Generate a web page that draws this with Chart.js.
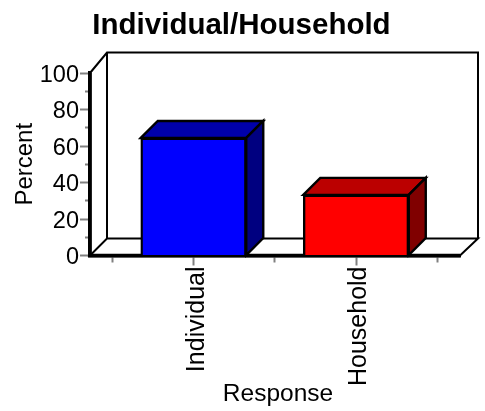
<!DOCTYPE html>
<html><head><meta charset="utf-8">
<style>html,body{margin:0;padding:0;background:#fff}#w{width:485px;height:411px}</style>
<script src="https://cdn.jsdelivr.net/npm/chart.js@4"></script>
</head><body><div id="w"><canvas id="c"></canvas></div>
<script>
const titleText = 'Individual/Household';
const categories = ['Individual', 'Household'];
const values = [64.4, 33.2];
const frontColors = ['#0000ff', '#ff0000'];
const topColors = ['#0000aa', '#bb0000'];
const sideColors = ['#000080', '#800000'];
const yTickMax = 100;
const xTickPositions = [-0.5, 0, 0.5, 1, 1.5];
const font = 'Liberation Sans, Arial, sans-serif';
const dx = 17, dy = 17, wallTopExtra = 3.5;

function poly(ctx, pts, fill) {
  ctx.beginPath();
  pts.forEach((p, i) => i ? ctx.lineTo(p[0], p[1]) : ctx.moveTo(p[0], p[1]));
  ctx.closePath();
  if (fill) { ctx.fillStyle = fill; ctx.fill(); }
  ctx.stroke();
}
function nudge(scale, method, ox, oy) {
  const key = '_n_' + method;
  if (scale[key]) return;
  scale[key] = true;
  const orig = scale[method];
  scale[method] = function () {
    const a = arguments;
    this.ctx.save();
    this.ctx.translate(ox, oy);
    orig.apply(this, a);
    this.ctx.restore();
  };
}
const box3d = {
  id: 'box3d',
  afterLayout(chart) {
    chart.titleBlock.left = 0;
    chart.titleBlock.right = 483;
    nudge(chart.scales.x, 'drawTitle', 3, 0);
    nudge(chart.scales.x, 'drawLabels', 3.5, 0);
    nudge(chart.scales.y, 'drawLabels', 0, 2.5);
  },
  beforeDatasetsDraw(chart) {
    const ctx = chart.ctx, x = chart.scales.x, y = chart.scales.y;
    const b = y.getPixelForValue(0), t = y.getPixelForValue(yTickMax);
    ctx.save();
    ctx.strokeStyle = '#000'; ctx.lineWidth = 2; ctx.lineJoin = 'miter';
    poly(ctx, [[x.left, b], [x.left + dx, b - dy], [x.right + dx + 1, b - dy], [x.right, b]]);
    ctx.beginPath();
    ctx.moveTo(x.left, t);
    ctx.lineTo(x.left + dx, t - dy - wallTopExtra);
    ctx.lineTo(x.right + dx + 1, t - dy - wallTopExtra);
    ctx.lineTo(x.right + dx + 1, b - dy);
    ctx.moveTo(x.left + dx, t - dy - wallTopExtra);
    ctx.lineTo(x.left + dx, b - dy);
    ctx.stroke();
    // redraw axis lines over the floor outline
    ctx.lineWidth = 3.5;
    ctx.beginPath(); ctx.moveTo(x.left, t); ctx.lineTo(x.left, b); ctx.lineTo(x.right, b); ctx.stroke();
    ctx.lineWidth = 2.4;
    chart.getDatasetMeta(0).data.forEach((el, i) => {
      const l = el.x - el.width / 2, r = el.x + el.width / 2, top = el.y, base = el.base;
      poly(ctx, [[l, top], [l + dx, top - dy], [r + dx, top - dy], [r, top]], topColors[i]);
      poly(ctx, [[r, top], [r + dx, top - dy], [r + dx, base - dy], [r, base]], sideColors[i]);
    });
    ctx.restore();
  }
};

new Chart(document.getElementById('c'), {
  type: 'bar',
  data: { datasets: [{
    data: categories.map((c, i) => ({ x: i, y: values[i] })),
    backgroundColor: frontColors,
    borderColor: '#000',
    borderWidth: 2.4,
    barThickness: 105.5,
    clip: false
  }] },
  plugins: [box3d],
  options: {
    responsive: true, maintainAspectRatio: false, animation: false,
    layout: { padding: { left: 0, right: 25, top: 0, bottom: 0 } },
    plugins: {
      legend: { display: false }, tooltip: { enabled: false },
      title: { display: true, text: titleText, color: '#000',
        font: { family: font, size: 29.5, weight: 'bold', lineHeight: 1.2 },
        padding: { top: 8, bottom: 29.6 } }
    },
    scales: {
      x: {
        type: 'linear', min: -0.637, max: 1.64, offset: false,
        afterBuildTicks(s) { s.ticks = xTickPositions.map(v => ({ value: v })); },
        afterFit(s) { s.height = 155.5; },
        grid: { offset: false, drawOnChartArea: false, tickLength: 10, tickColor: '#808080', tickWidth: 2,
          tickBorderDash: c => (c.tick && !Number.isInteger(c.tick.value)) ? [5, 20] : [] },
        border: { color: '#000', width: 3.5 },
        ticks: { autoSkip: false, minRotation: 90, maxRotation: 90, padding: 1, color: '#000',
          font: { family: font, size: 25 },
          callback: v => categories[v] !== undefined ? categories[v] : '' },
        title: { display: true, text: 'Response', color: '#000',
          font: { family: font, size: 24.5 }, padding: { top: 0, bottom: 2.5 } }
      },
      y: {
        min: 0, max: yTickMax,
        afterFit(s) { s.width = 90; },
        grid: { drawOnChartArea: false, tickLength: 10, tickColor: '#808080', tickWidth: 2,
          tickBorderDash: c => (c.tick && c.tick.value % 20 !== 0) ? [0, 5, 5, 0] : [] },
        border: { color: '#000', width: 3.5 },
        ticks: { stepSize: 10, autoSkip: false, padding: 1, color: '#000',
          font: { family: font, size: 23.5 },
          callback: v => v % 20 === 0 ? String(v) : '' },
        title: { display: true, text: 'Percent', color: '#000',
          font: { family: font, size: 24 }, padding: { top: 11, bottom: 0 } }
      }
    }
  }
});
</script></body></html>
